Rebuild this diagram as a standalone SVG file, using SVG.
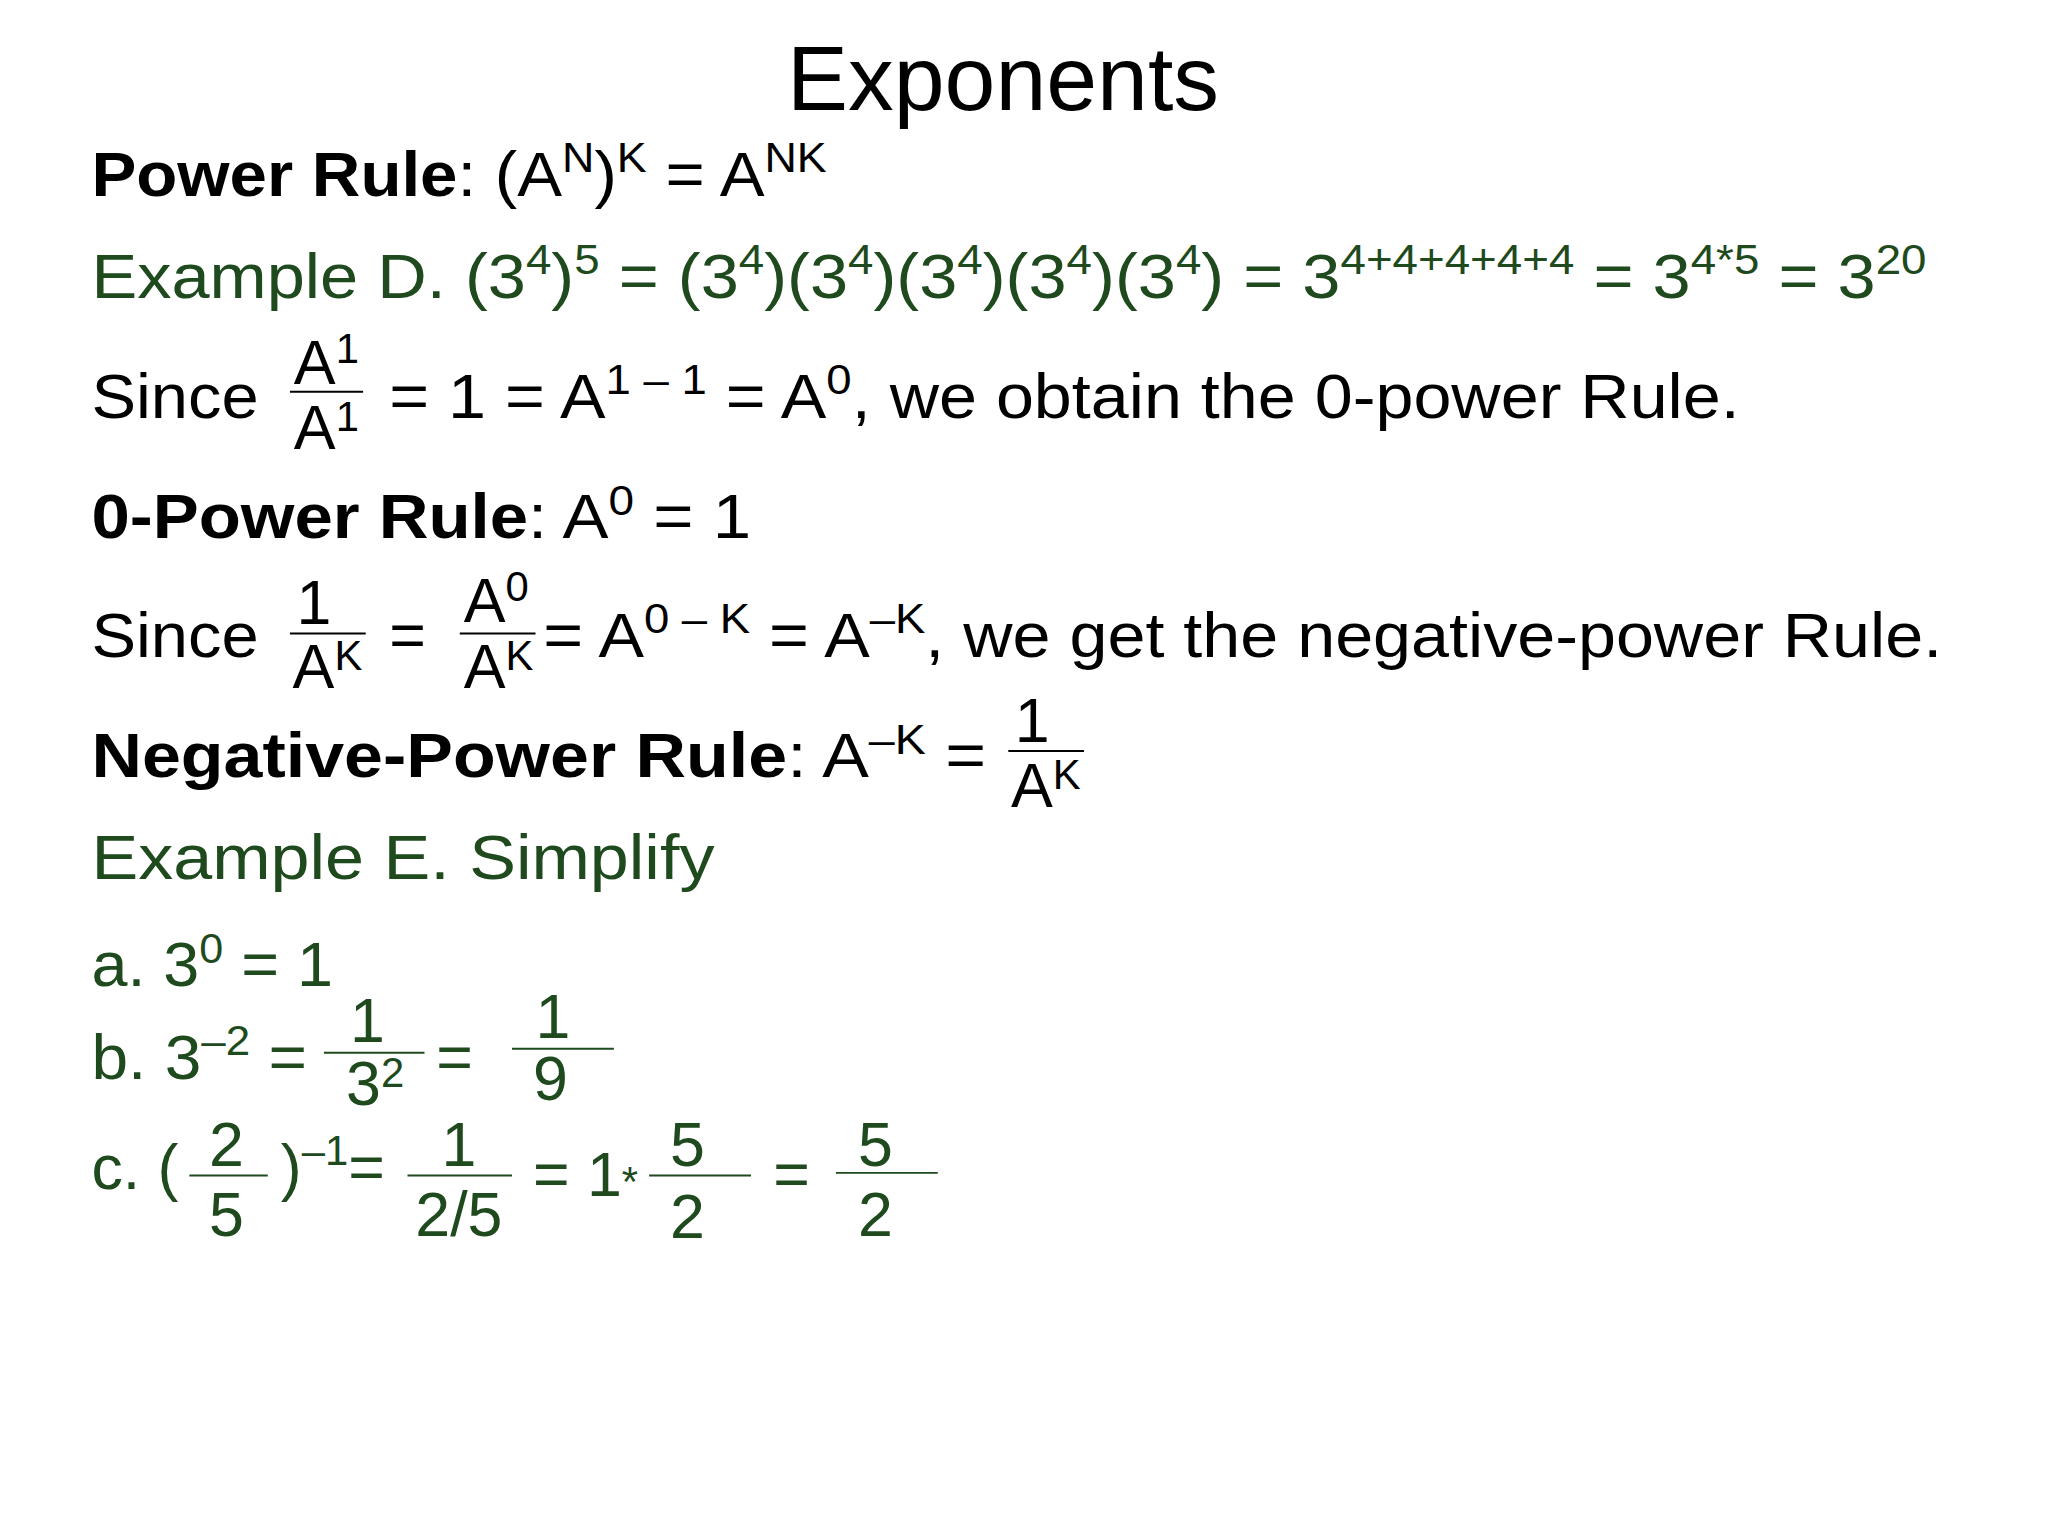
<svg xmlns="http://www.w3.org/2000/svg" width="2048" height="1536" viewBox="0 0 2048 1536" xml:space="preserve">
<style>
text{font-family:"Liberation Sans",Arial,sans-serif;font-size:48px;fill:#000}
.g{fill:#1e4a1e}
.b{font-weight:bold}
.s{font-size:32px}
.fl{stroke:#000;stroke-width:1.5}
.fg{stroke:#1e4a1e;stroke-width:1.5}
</style>
<rect width="2048" height="1536" fill="#fff"/>
<g transform="scale(1.3061)">
<g id="title"><text x="768" y="84" text-anchor="middle" style="font-size:70px">Exponents</text></g>
<g id="power-rule"><text x="70" y="150" textLength="563" lengthAdjust="spacingAndGlyphs"><tspan class="b">Power Rule</tspan>: (A<tspan class="s" dy="-18">N</tspan><tspan dy="18">)</tspan><tspan class="s" dy="-18">K</tspan><tspan dy="18"> = A</tspan><tspan class="s" dy="-18">NK</tspan></text></g>
<g id="example-d"><text class="g" x="70" y="228" textLength="1405" lengthAdjust="spacingAndGlyphs">Example D.  (3<tspan class="s" dy="-18">4</tspan><tspan dy="18">)</tspan><tspan class="s" dy="-18">5</tspan><tspan dy="18"> = (3</tspan><tspan class="s" dy="-18">4</tspan><tspan dy="18">)(3</tspan><tspan class="s" dy="-18">4</tspan><tspan dy="18">)(3</tspan><tspan class="s" dy="-18">4</tspan><tspan dy="18">)(3</tspan><tspan class="s" dy="-18">4</tspan><tspan dy="18">)(3</tspan><tspan class="s" dy="-18">4</tspan><tspan dy="18">)  = 3</tspan><tspan class="s" dy="-18">4+4+4+4+4</tspan><tspan dy="18"> = 3</tspan><tspan class="s" dy="-18">4*5</tspan><tspan dy="18"> = 3</tspan><tspan class="s" dy="-18">20</tspan></text></g>
<g id="since-1">
<text x="70" y="320" textLength="128" lengthAdjust="spacingAndGlyphs">Since</text>
<text x="225" y="294">A<tspan class="s" dy="-16">1</tspan></text>
<line class="fl" x1="222" y1="300" x2="278" y2="300"/>
<text x="225" y="344">A<tspan class="s" dy="-14">1</tspan></text>
<text x="298" y="320" textLength="1034" lengthAdjust="spacingAndGlyphs">= 1 = A<tspan class="s" dy="-18">1 – 1</tspan><tspan dy="18"> = A</tspan><tspan class="s" dy="-18">0</tspan><tspan dy="18">, we obtain the 0-power Rule.</tspan></text>
</g>
<g id="zero-rule"><text x="70" y="412" textLength="505" lengthAdjust="spacingAndGlyphs"><tspan class="b">0-Power Rule</tspan>:  A<tspan class="s" dy="-18">0</tspan><tspan dy="18"> = 1</tspan></text></g>
<g id="since-2">
<text x="70" y="503" textLength="128" lengthAdjust="spacingAndGlyphs">Since</text>
<text x="227" y="478">1</text>
<line class="fl" x1="222" y1="485" x2="280" y2="485"/>
<text x="224" y="527">A<tspan class="s" dy="-14">K</tspan></text>
<text x="298" y="503">=</text>
<text x="355" y="476">A<tspan class="s" dy="-16">0</tspan></text>
<line class="fl" x1="352" y1="485" x2="410" y2="485"/>
<text x="355" y="527">A<tspan class="s" dy="-14">K</tspan></text>
<text x="416" y="503" textLength="1071" lengthAdjust="spacingAndGlyphs">= A<tspan class="s" dy="-18">0 – K</tspan><tspan dy="18"> = A</tspan><tspan class="s" dy="-18">–K</tspan><tspan dy="18">, we get the negative-power Rule.</tspan></text>
</g>
<g id="neg-rule">
<text x="70" y="595" textLength="685" lengthAdjust="spacingAndGlyphs"><tspan class="b">Negative-Power Rule</tspan>:  A<tspan class="s" dy="-18">–K</tspan><tspan dy="18">  =</tspan></text>
<text x="777" y="568">1</text>
<line class="fl" x1="772" y1="575" x2="830" y2="575"/>
<text x="774" y="618">A<tspan class="s" dy="-14">K</tspan></text>
</g>
<g id="example-e"><text class="g" x="70" y="673" textLength="477" lengthAdjust="spacingAndGlyphs">Example E.  Simplify</text></g>
<g id="a"><text class="g" x="70" y="755" textLength="185" lengthAdjust="spacingAndGlyphs">a. 3<tspan class="s" dy="-18">0</tspan><tspan dy="18"> = 1</tspan></text></g>
<g id="b">
<text class="g" x="70" y="826" textLength="165" lengthAdjust="spacingAndGlyphs">b. 3<tspan class="s" dy="-18">–2</tspan><tspan dy="18"> =</tspan></text>
<text class="g" x="268" y="798">1</text>
<line class="fg" x1="248" y1="806" x2="325" y2="806"/>
<text class="g" x="265" y="846">3<tspan class="s" dy="-14">2</tspan></text>
<text class="g" x="334" y="826">=</text>
<text class="g" x="410" y="795">1</text>
<line class="fg" x1="392" y1="803" x2="470" y2="803"/>
<text class="g" x="408" y="842">9</text>
</g>
<g id="c">
<text class="g" x="70" y="910">c. (</text>
<text class="g" x="160" y="893">2</text>
<line class="fg" x1="145" y1="900" x2="205" y2="900"/>
<text class="g" x="160" y="946">5</text>
<text class="g" x="215" y="910">)<tspan class="s" dy="-18">–1</tspan><tspan dy="18">=</tspan></text>
<text class="g" x="338" y="893">1</text>
<line class="fg" x1="312" y1="900" x2="392" y2="900"/>
<text class="g" x="318" y="946">2/5</text>
<text class="g" x="408" y="916">= 1<tspan class="s">*</tspan></text>
<text class="g" x="513" y="893">5</text>
<line class="fg" x1="497" y1="900" x2="575" y2="900"/>
<text class="g" x="513" y="948">2</text>
<text class="g" x="592" y="916">=</text>
<text class="g" x="657" y="893">5</text>
<line class="fg" x1="640" y1="898" x2="718" y2="898"/>
<text class="g" x="657" y="946">2</text>
</g>
</g>
</svg>
